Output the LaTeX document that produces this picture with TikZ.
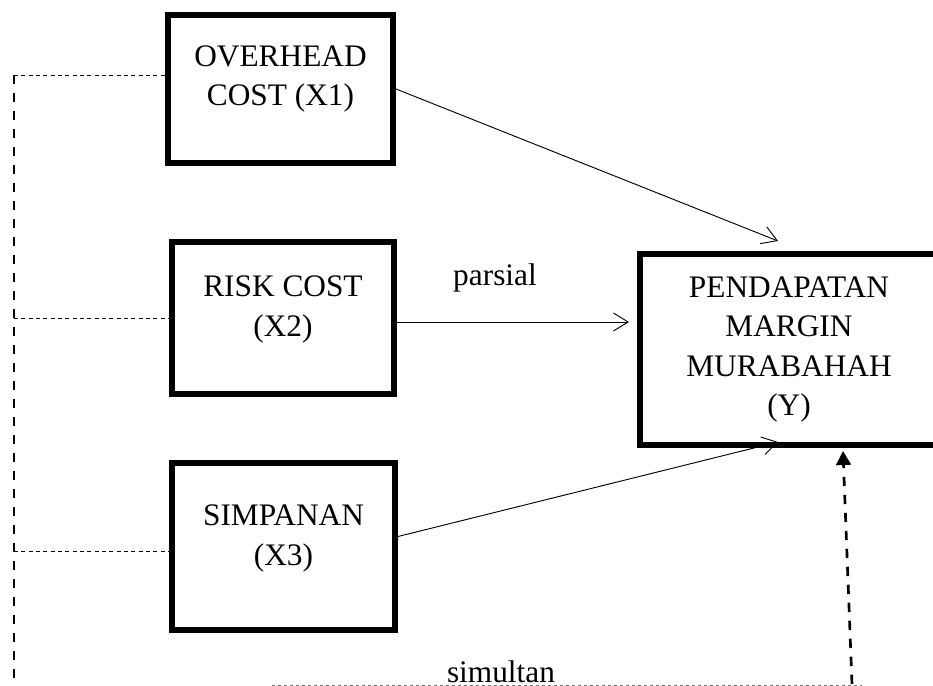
\documentclass[tikz,border=0pt]{standalone}
\usepackage{fontspec}
\setmainfont{Liberation Serif}
\usetikzlibrary{arrows.meta}

\begin{document}
\begin{tikzpicture}[x=0.75pt, y=-0.75pt,
  font=\fontsize{23.5}{29.5}\selectfont,
  varbox/.style={draw, line width=4.5pt, inner sep=0pt},
  boxtext/.style={align=center, inner sep=0pt},
  partarrow/.style={line width=0.7pt, -{Straight Barb[length=11pt, width=13.5pt]}},
  simarrow/.style={line width=2pt, dash pattern=on 7pt off 6.5pt, -{Triangle[length=10.5pt, width=11pt]}},
  spine/.style={line width=2pt, dash pattern=on 7pt off 6.5pt},
  branch/.style={line width=0.6pt, dash pattern=on 3pt off 2.5pt},
  baseline/.style={line width=0.6pt, black!55, dash pattern=on 2.5pt off 2pt}]
\providecommand{\boxw}{168pt}
\useasboundingbox (0,0) rectangle (933,686);
% Variable boxes
\node[varbox, minimum width=168.75pt, minimum height=111pt] (x1) at (280.5,89) {};
\node[varbox, minimum width=166.5pt, minimum height=114pt] (x2) at (283,318) {};
\node[varbox, minimum width=167.25pt, minimum height=125.25pt] (x3) at (283.5,546.5) {};
\node[varbox, minimum width=223.5pt, minimum height=143.25pt] (y) at (789,349.5) {};
% Box texts
\node[boxtext, yshift=7.5pt] (x1lbl) at (x1) {OVERHEAD\\COST (X1)};
\node[boxtext, yshift=6.5pt] (x2lbl) at (x2) {RISK COST\\(X2)};
\node[boxtext, yshift=6pt] (x3lbl) at (x3) {SIMPANAN\\(X3)};
\node[boxtext] (ylbl) at (y) {PENDAPATAN\\MARGIN\\MURABAHAH\\(Y)};
% Free ends
\coordinate (yin1) at (778,241);
\coordinate (yin2) at (629,322);
\coordinate (yin3) at (778,442);
\coordinate (ytip) at (843,451);
\coordinate (sbot) at (852,684);
\coordinate (spinetop) at (14,75);
\coordinate (spinebot) at (14,686);
\coordinate (bleft) at (272,685);
\coordinate (bright) at (862,685);
% Partial effects
\draw[partarrow] (x1.east) -- (yin1);
\draw[partarrow] ([yshift=-3pt]x2.east) -- (yin2);
\draw[partarrow] ([yshift=7.5pt]x3.east) -- (yin3);
\node[anchor=base, inner sep=0pt] (parsial) at (495,285) {parsial};
% Simultaneous effect
\begin{scope}
  \draw[spine] (spinetop) -- (spinebot);
  \draw[branch] (spinetop) -- ([yshift=10.5pt]x1.west);
  \draw[branch] (x2.west -| spinetop) -- (x2.west);
  \draw[branch] ([yshift=-3.4pt]x3.west -| spinetop) -- ([yshift=-3.4pt]x3.west);
  \draw[baseline] (bleft) -- (bright);
  \draw[simarrow] (sbot) -- (ytip);
\end{scope}
\node[anchor=base, inner sep=0pt] (simultan) at (501,682) {simultan};
\end{tikzpicture}
\end{document}
